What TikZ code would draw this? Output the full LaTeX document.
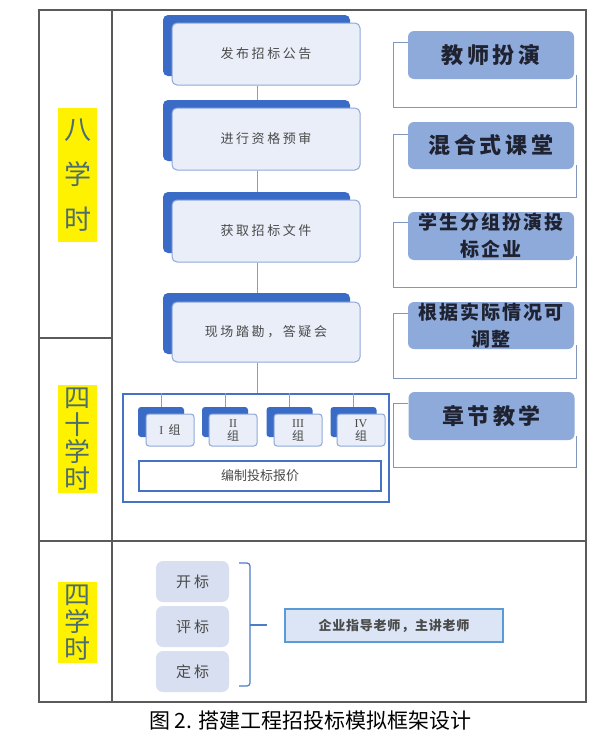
\documentclass[tikz,border=0pt]{standalone}
\usepackage{fontspec}
\newfontfamily\cjk{Noto Sans CJK SC}
\newfontfamily\rmser{Liberation Serif}
\definecolor{tablegray}{HTML}{5A5A5A}
\definecolor{stepdark}{HTML}{3A6BC6}
\definecolor{stepline}{HTML}{8EA8D8}
\definecolor{stepfill}{HTML}{E9EEF8}
\definecolor{steptext}{HTML}{4A4A4A}
\definecolor{connc}{HTML}{7F9FD2}
\definecolor{grpline}{HTML}{4472C4}
\definecolor{rfill}{HTML}{8EAADB}
\definecolor{rline}{HTML}{8096BA}
\definecolor{rtext}{HTML}{1F2230}
\definecolor{bfill}{HTML}{D7DFF0}
\definecolor{tfill}{HTML}{DBE5F5}
\definecolor{tline}{HTML}{5B9BD5}
\definecolor{bracec}{HTML}{4A7CC8}
\definecolor{yeltext}{HTML}{4E6E6E}
\begin{document}
\begin{tikzpicture}[x=1pt,y=-1pt,
 tbl/.style={draw=tablegray,line width=1.4pt},
 backbox/.style={fill=stepdark,rounded corners=5pt,minimum width=187pt,minimum height=61pt,inner sep=0pt},
 frontbox/.style={draw=stepline,line width=1pt,fill=stepfill,rounded corners=5pt,minimum width=188pt,minimum height=62pt,inner sep=0pt,text=steptext,font=\cjk\fontsize{13}{15}\selectfont\addfontfeatures{LetterSpace=20}},
 conn/.style={draw=connc,line width=1pt},
 grpbox/.style={draw=grpline,line width=1.8pt,minimum width=266pt,minimum height=108pt,inner sep=0pt},
 gback/.style={fill=stepdark,rounded corners=3pt,minimum width=46pt,minimum height=30pt,inner sep=0pt},
 gfront/.style={draw=stepline,line width=1pt,fill=stepfill,rounded corners=3pt,minimum width=48pt,minimum height=32pt,inner sep=0pt,text=steptext,align=center,font=\cjk\fontsize{12}{13}\selectfont},
 quotebox/.style={draw=grpline,line width=1.4pt,fill=white,minimum width=242pt,minimum height=30pt,inner sep=0pt,text=steptext,font=\cjk\fontsize{13}{15}\selectfont},
 outlbox/.style={minimum width=182pt,inner sep=0pt},
 outl/.style={draw=rline,line width=1.2pt},
 rbox/.style={fill=rfill,rounded corners=6pt,minimum width=166pt,inner sep=0pt,text=rtext,align=center},
 rbig/.style={font=\cjk\bfseries\fontsize{22}{26}\selectfont\addfontfeatures{LetterSpace=16}},
 rsmall/.style={font=\cjk\bfseries\fontsize{19}{27}\selectfont\addfontfeatures{LetterSpace=10}},
 yel/.style={fill=yellow,text=yeltext,align=center,inner sep=0pt,minimum width=39pt},
 bbox/.style={fill=bfill,rounded corners=7pt,minimum width=73pt,minimum height=41pt,inner sep=0pt,text=steptext,font=\cjk\fontsize{15}{17}\selectfont\addfontfeatures{LetterSpace=20}},
 tchbox/.style={draw=tline,line width=1.2pt,fill=tfill,minimum width=218pt,minimum height=33pt,inner sep=0pt,text=steptext,font=\cjk\bfseries\fontsize{13}{15}\selectfont\addfontfeatures{LetterSpace=6}},
 bracel/.style={draw=bracec,line width=1.2pt}
]
\useasboundingbox (0,0) rectangle (601,736);
\fill[white] (0,0) rectangle (601,736);

% table
\draw[tbl] (39,10) rectangle (586,702);
\draw[tbl] (112,10) -- (112,702);
\draw[tbl] (39,338) -- (112,338);
\draw[tbl] (39,541) -- (586,541);

% left labels
\node[yel,minimum height=134pt,font=\cjk\fontsize{27}{45}\selectfont] (l1) at (77.5,175) {八\\学\\时};
\node[yel,minimum height=108pt,font=\cjk\fontsize{26}{27}\selectfont] (l2) at (77.5,439) {四\\十\\学\\时};
\node[yel,minimum height=81pt,font=\cjk\fontsize{26}{27}\selectfont] (l3) at (77,622.5) {四\\学\\时};

% step boxes
\coordinate (trunk) at (257,0);
\node[backbox] (s1b) at (256.5,45.5) {};
\node[frontbox] (s1) at (266,54) {发布招标公告};
\node[backbox] (s2b) at (256.5,130.5) {};
\node[frontbox] (s2) at (266,139) {进行资格预审};
\node[backbox] (s3b) at (256.5,222.5) {};
\node[frontbox] (s3) at (266,231) {获取招标文件};
\node[backbox] (s4b) at (256.5,323.5) {};
\node[frontbox,minimum height=60pt] (s4) at (266,332) {现场踏勘，答疑会};
\draw[conn] (s1.south -| trunk) -- (s2b.north -| trunk);
\draw[conn] (s2.south -| trunk) -- (s3b.north -| trunk);
\draw[conn] (s3.south -| trunk) -- (s4b.north -| trunk);

% group container
\node[grpbox] (grp) at (256,448) {};
\draw[conn] (s4.south -| trunk) -- (grp.north -| trunk);
\node[gback] (gb1) at (161,422) {};
\node[gfront] (g1) at (170,430) {{\rmser I}\ \ 组};
\node[gback] (gb2) at (225,422) {};
\node[gfront] (g2) at (233,430) {{\rmser II}\\组};
\node[gback] (gb3) at (289.5,422) {};
\node[gfront] (g3) at (298,430) {{\rmser III}\\组};
\node[gback] (gb4) at (353.5,422) {};
\node[gfront] (g4) at (361,430) {{\rmser IV}\\组};
\foreach \g in {gb1,gb2,gb3,gb4}{\draw[conn] (\g.north) -- (\g.north |- grp.north);}
\node[quotebox] (quote) at (260,476) {编制投标报价};

% right column
\node[outlbox,minimum height=64pt] (o1) at (485,75) {};
\node[rbox,rbig,minimum height=48pt] (r1) at (491,55) {教师扮演};
\node[outlbox,minimum height=62pt] (o2) at (485,166) {};
\node[rbox,rbig,minimum height=47pt] (r2) at (491,145.5) {混合式课堂};
\node[outlbox,minimum height=64pt] (o3) at (485,255) {};
\node[rbox,rsmall,minimum height=48pt] (r3) at (491,236) {学生分组扮演投\\标企业};
\node[outlbox,minimum height=64pt] (o4) at (485,346) {};
\node[rbox,rsmall,minimum height=47pt] (r4) at (491,325.5) {根据实际情况可\\调整};
\node[outlbox,minimum height=63pt] (o5) at (485,435.5) {};
\node[rbox,rbig,minimum height=48pt] (r5) at (491.5,416) {章节教学};
\foreach \i in {1,...,5}{
  \draw[outl] (r\i.west |- o\i.north) -- (o\i.north west) -- (o\i.south west) -- (o\i.south east) -- ([yshift=4pt]o\i.east |- r\i.south);
}

% bottom section
\node[bbox] (bo1) at (192.5,581.5) {开标};
\node[bbox] (bo2) at (192.5,626.5) {评标};
\node[bbox] (bo3) at (192.5,671.5) {定标};
\coordinate (brT) at (239,563);
\coordinate (brB) at (239,686);
\coordinate (brX) at (250,0);
\coordinate (brM) at (250,625);
\coordinate (brS) at (267,625);
\draw[bracel,rounded corners=3pt] (brT) -- (brT -| brX) -- (brB -| brX) -- (brB);
\draw[bracel] (brM) -- (brS);
\node[tchbox] (tch) at (394,625.5) {企业指导老师，主讲老师};

% caption
\node[font=\cjk\fontsize{21}{24}\selectfont,text=black,inner sep=0pt] (cap) at (310.5,721) {图 2. 搭建工程招投标模拟框架设计};
\end{tikzpicture}
\end{document}
